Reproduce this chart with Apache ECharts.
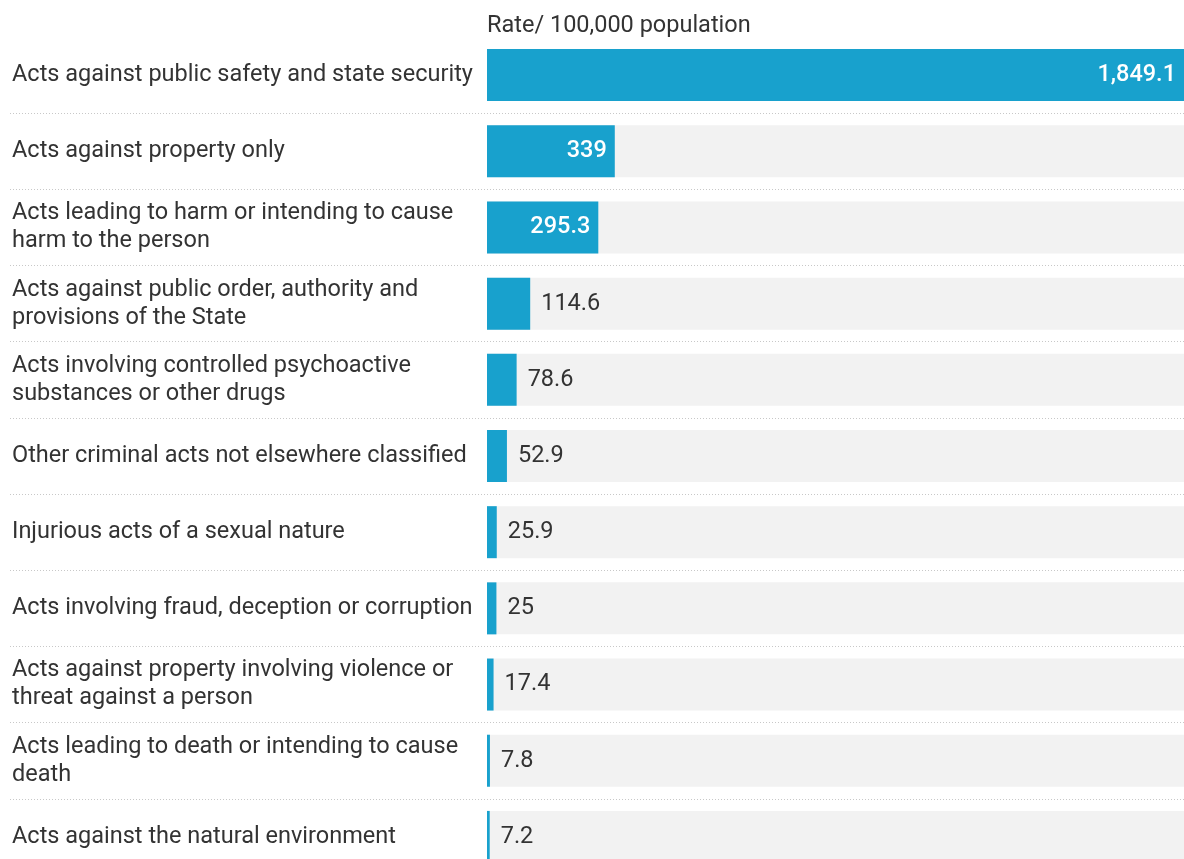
<!DOCTYPE html>
<html><head><meta charset="utf-8">
<script src="https://cdn.jsdelivr.net/npm/echarts@6/dist/echarts.min.js"></script>
<style>html,body{margin:0;padding:0;background:#fff;overflow:hidden}#c{width:1184px;height:875px}</style>
</head><body><div id="c"></div>
<script>
const categories = [
  "Acts against public safety and state security",
  "Acts against property only",
  "Acts leading to harm or intending to cause harm to the person",
  "Acts against public order, authority and provisions of the State",
  "Acts involving controlled psychoactive substances or other drugs",
  "Other criminal acts not elsewhere classified",
  "Injurious acts of a sexual nature",
  "Acts involving fraud, deception or corruption",
  "Acts against property involving violence or threat against a person",
  "Acts leading to death or intending to cause death",
  "Acts against the natural environment"
];
const values = [1849.1, 339, 295.3, 114.6, 78.6, 52.9, 25.9, 25, 17.4, 7.8, 7.2];
const titleText = "Rate/ 100,000 population";

const FS = 23.5;
const chart = echarts.init(document.getElementById('c'));
const fmt = v => v.toLocaleString('en-US', {maximumFractionDigits: 1});
const data = values.map(v => {
  const inside = v > 200;
  return {
    value: v,
    label: inside
      ? {position: 'insideRight', distance: 8, color: '#ffffff', fontWeight: 500}
      : {position: 'right', distance: 11, color: '#333333', fontWeight: 'normal'}
  };
});
chart.setOption({
  animation: false,
  title: {text: titleText, left: 482, top: 9, textStyle: {fontFamily: 'Roboto', fontSize: FS, fontWeight: 'normal', color: '#333333'}},
  grid: [
    {left: 10, right: 0, top: 37, bottom: 0},
    {left: 487, right: 0, top: 37, bottom: 0}
  ],
  xAxis: [
    {gridIndex: 0, type: 'value', show: false, min: 0, max: 1},
    {gridIndex: 1, type: 'value', show: false, min: 0, max: 1849.1}
  ],
  yAxis: [
    {gridIndex: 0, type: 'category', inverse: true, data: categories,
     axisLine: {show: false}, axisTick: {show: false}, axisLabel: {show: false},
     splitLine: {show: true, interval: (i) => i !== 0, lineStyle: {type: [1, 2], color: '#c8c8c8', width: 1}}},
    {gridIndex: 1, type: 'category', inverse: true, data: categories,
     axisLine: {show: false}, axisTick: {show: false}, splitLine: {show: false},
     axisLabel: {margin: 475, align: 'left', width: 470, overflow: 'break', lineHeight: 28,
       padding: [4, 0, 0, 0],
       fontFamily: 'Roboto', fontSize: FS, color: '#333333'}}
  ],
  series: [{
    type: 'bar', xAxisIndex: 1, yAxisIndex: 1, data: data, barWidth: 52,
    itemStyle: {color: '#18a1cd'},
    showBackground: true, backgroundStyle: {color: '#f2f2f2'},
    label: {show: true, formatter: p => fmt(p.value), fontFamily: 'Roboto', fontSize: FS}
  }]
});
</script></body></html>
